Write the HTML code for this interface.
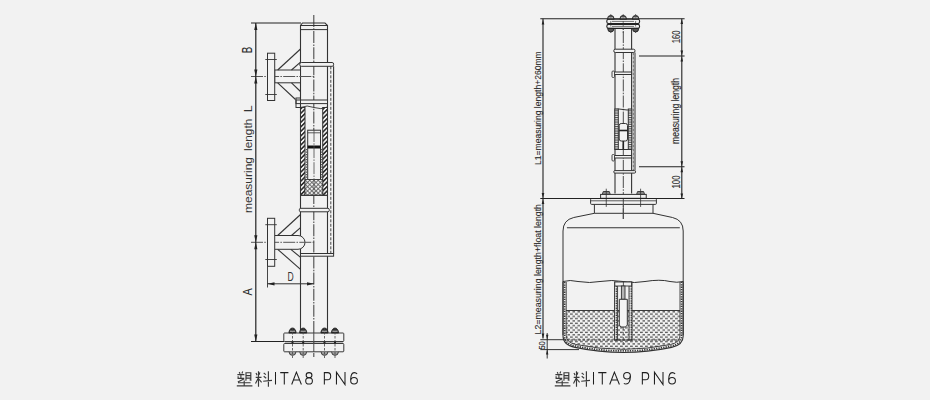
<!DOCTYPE html>
<html><head><meta charset="utf-8"><style>
html,body{margin:0;padding:0;background:#f2f2f2;}
svg{display:block;font-family:"Liberation Sans",sans-serif;}
</style></head><body>
<svg width="930" height="400" viewBox="0 0 930 400">
<defs>
<pattern id="hatch1" patternUnits="userSpaceOnUse" width="3.2" height="3.2" patternTransform="rotate(-45)"><rect width="3.2" height="3.2" fill="#f2f2f2"/><line x1="0" y1="1.6" x2="3.2" y2="1.6" stroke="#222" stroke-width="1.5"/></pattern>
<pattern id="xhatch" patternUnits="userSpaceOnUse" width="3" height="3" patternTransform="rotate(45)"><rect width="3" height="3" fill="#f2f2f2"/><path d="M0,1.5 H3 M1.5,0 V3" stroke="#555" stroke-width="0.8"/></pattern>
<pattern id="hhatch" patternUnits="userSpaceOnUse" width="4" height="1.8"><rect width="4" height="1.8" fill="#f2f2f2"/><rect x="0" y="0" width="4" height="0.8" fill="#3a3a3a"/></pattern>
<pattern id="dots" patternUnits="userSpaceOnUse" width="5" height="4.6"><rect width="5" height="4.6" fill="#f2f2f2"/><rect x="0" y="0.6" width="2.8" height="1.3" fill="#555"/><rect x="2.5" y="2.9" width="2.8" height="1.3" fill="#555"/></pattern>
<pattern id="vdot" patternUnits="userSpaceOnUse" width="3" height="2.4"><rect width="3" height="2.4" fill="#f2f2f2"/><rect x="0.6" y="0.3" width="1.8" height="1.4" fill="#333"/></pattern>
</defs>
<line x1="313.8" y1="15" x2="313.8" y2="357" stroke="#4a4a4a" stroke-width="1.1" stroke-dasharray="12 1.3 1.5 1.3"/>
<path d="M300.5,333 L300.5,25.5 L302.5,23 L325,23 L327.5,25.5 L327.5,333" stroke="#333" stroke-width="1.1" fill="none" />
<line x1="300.5" y1="25.5" x2="327.5" y2="25.5" stroke="#333" stroke-width="1" />
<line x1="300.5" y1="29.6" x2="327.5" y2="29.6" stroke="#333" stroke-width="1" />
<line x1="251" y1="23" x2="301" y2="23" stroke="#222" stroke-width="1.1" />
<rect x="299.8" y="62.5" width="33.80000000000001" height="3.799999999999997" rx="1.5" stroke="#333" stroke-width="1" fill="#f2f2f2" />
<line x1="333.6" y1="66.3" x2="333.6" y2="253.5" stroke="#333" stroke-width="1.1" />
<line x1="330.8" y1="66.3" x2="330.8" y2="253.5" stroke="#333" stroke-width="0.9" stroke-dasharray="3 1.5"/>
<rect x="296" y="100" width="31.5" height="3.5999999999999943" rx="0" stroke="#333" stroke-width="1" fill="#f2f2f2" />
<rect x="296" y="98" width="4.5" height="9.5" rx="0" stroke="#333" stroke-width="1" fill="none" />
<path d="M300.5,107.5 Q307,104.5 314,107.5 Q321,110 327.5,107" stroke="#333" stroke-width="0.9" fill="none" />
<rect x="300.5" y="107.5" width="4.5" height="87.80000000000001" rx="0" stroke="#333" stroke-width="1" fill="url(#hatch1)" />
<rect x="322.7" y="107.5" width="4.800000000000011" height="87.80000000000001" rx="0" stroke="#333" stroke-width="1" fill="url(#hatch1)" />
<rect x="307.7" y="130.2" width="12.800000000000011" height="49.30000000000001" rx="0" stroke="#333" stroke-width="1" fill="#f2f2f2" />
<line x1="307.7" y1="132.8" x2="320.5" y2="132.8" stroke="#333" stroke-width="0.8" />
<rect x="307.7" y="145.5" width="12.800000000000011" height="3.0" rx="0" stroke="#333" stroke-width="0" fill="#111" />
<line x1="306.4" y1="149" x2="306.4" y2="179.5" stroke="#555" stroke-width="1.3" stroke-dasharray="1.3 1.2"/>
<line x1="321.7" y1="149" x2="321.7" y2="179.5" stroke="#555" stroke-width="1.3" stroke-dasharray="1.3 1.2"/>
<rect x="305" y="179.5" width="17.69999999999999" height="15.800000000000011" rx="0" stroke="#333" stroke-width="0.8" fill="url(#xhatch)" />
<line x1="314" y1="130" x2="314" y2="195" stroke="#4a4a4a" stroke-width="0.8" stroke-dasharray="12 1.3 1.5 1.3"/>
<line x1="300.5" y1="195.3" x2="327.5" y2="195.3" stroke="#333" stroke-width="1" />
<rect x="299.3" y="208.3" width="30.0" height="3.5" rx="1.5" stroke="#333" stroke-width="1" fill="#f2f2f2" />
<rect x="300.5" y="253.5" width="33.10000000000002" height="2.6999999999999886" rx="0" stroke="#333" stroke-width="1" fill="#f2f2f2" />
<rect x="274.7" y="70" width="25.80000000000001" height="12.799999999999997" rx="0" stroke="#333" stroke-width="1" fill="#f2f2f2" />
<line x1="251" y1="76.5" x2="315" y2="76.5" stroke="#555" stroke-width="1" stroke-dasharray="12 1.3 1.5 1.3"/>
<rect x="267.5" y="53.2" width="7.199999999999989" height="47.3" rx="0" stroke="#333" stroke-width="1" fill="#f2f2f2" />
<line x1="265.3" y1="59.5" x2="276.8" y2="59.5" stroke="#333" stroke-width="0.9" />
<line x1="265.3" y1="94.5" x2="276.8" y2="94.5" stroke="#333" stroke-width="0.9" />
<line x1="277.7" y1="70" x2="300.5" y2="49" stroke="#333" stroke-width="1.1" />
<line x1="291.5" y1="70" x2="300.5" y2="62.2" stroke="#333" stroke-width="1.1" />
<line x1="277.7" y1="82.8" x2="295.5" y2="99.5" stroke="#333" stroke-width="1.1" />
<line x1="291.5" y1="82.8" x2="300.5" y2="91.5" stroke="#333" stroke-width="1.1" />
<path d="M274.7,235.5 L298,235.5 A7,6.9 0 0 1 298,249.3 L274.7,249.3" stroke="#333" stroke-width="1" fill="#f2f2f2" />
<line x1="251" y1="242.3" x2="315" y2="242.3" stroke="#555" stroke-width="1" stroke-dasharray="12 1.3 1.5 1.3"/>
<rect x="267.5" y="218.3" width="7.199999999999989" height="48.0" rx="0" stroke="#333" stroke-width="1" fill="#f2f2f2" />
<line x1="265.3" y1="224.7" x2="276.8" y2="224.7" stroke="#333" stroke-width="0.9" />
<line x1="265.3" y1="259.5" x2="276.8" y2="259.5" stroke="#333" stroke-width="0.9" />
<line x1="277.7" y1="235.5" x2="300.5" y2="214.5" stroke="#333" stroke-width="1.1" />
<line x1="291.5" y1="235.5" x2="300.5" y2="227.7" stroke="#333" stroke-width="1.1" />
<line x1="277.7" y1="249.3" x2="300.5" y2="269.3" stroke="#333" stroke-width="1.1" />
<line x1="290.8" y1="249.3" x2="300.5" y2="257.3" stroke="#333" stroke-width="1.1" />
<line x1="267.5" y1="266.3" x2="267.5" y2="287.5" stroke="#333" stroke-width="0.9" />
<line x1="267.5" y1="283.8" x2="314" y2="283.8" stroke="#333" stroke-width="1" />
<path d="M267.5,283.8 L274.5,282.2 L274.5,285.40000000000003 Z" fill="#222" stroke="none"/>
<path d="M314,283.8 L307,282.2 L307,285.40000000000003 Z" fill="#222" stroke="none"/>
<text x="287.6" y="280.5" font-size="12.2" fill="#333" textLength="6.2" lengthAdjust="spacingAndGlyphs">D</text>
<rect x="283.8" y="333" width="60.0" height="8.5" rx="0.8" stroke="#3a3a3a" stroke-width="1" fill="#f2f2f2" />
<rect x="283.8" y="343.5" width="60.0" height="8.300000000000011" rx="0.8" stroke="#3a3a3a" stroke-width="1" fill="#f2f2f2" />
<line x1="285" y1="342.5" x2="343" y2="342.5" stroke="#999" stroke-width="0.6" />
<path d="M288.9,333 A3.6,5 0 0 1 296.1,333 Z" stroke="#222" stroke-width="0.8" fill="#2a2a2a" />
<line x1="289.9" y1="331.2" x2="295.1" y2="331.2" stroke="#d8d8d8" stroke-width="0.9" />
<path d="M289.1,351.8 A3.4,3.6 0 0 0 295.9,351.8" stroke="#333" stroke-width="0.9" fill="#9a9a9a" />
<line x1="292.5" y1="328" x2="292.5" y2="358" stroke="#444" stroke-width="0.8" stroke-dasharray="2.5 1.5"/>
<circle cx="292.5" cy="342.5" r="1.1" fill="#222"/>
<path d="M299.59999999999997,333 A3.6,5 0 0 1 306.8,333 Z" stroke="#222" stroke-width="0.8" fill="#2a2a2a" />
<line x1="300.59999999999997" y1="331.2" x2="305.8" y2="331.2" stroke="#d8d8d8" stroke-width="0.9" />
<path d="M299.8,351.8 A3.4,3.6 0 0 0 306.59999999999997,351.8" stroke="#333" stroke-width="0.9" fill="#9a9a9a" />
<line x1="303.2" y1="328" x2="303.2" y2="358" stroke="#444" stroke-width="0.8" stroke-dasharray="2.5 1.5"/>
<circle cx="303.2" cy="342.5" r="1.1" fill="#222"/>
<path d="M320.9,333 A3.6,5 0 0 1 328.1,333 Z" stroke="#222" stroke-width="0.8" fill="#2a2a2a" />
<line x1="321.9" y1="331.2" x2="327.1" y2="331.2" stroke="#d8d8d8" stroke-width="0.9" />
<path d="M321.1,351.8 A3.4,3.6 0 0 0 327.9,351.8" stroke="#333" stroke-width="0.9" fill="#9a9a9a" />
<line x1="324.5" y1="328" x2="324.5" y2="358" stroke="#444" stroke-width="0.8" stroke-dasharray="2.5 1.5"/>
<circle cx="324.5" cy="342.5" r="1.1" fill="#222"/>
<path d="M331.4,333 A3.6,5 0 0 1 338.6,333 Z" stroke="#222" stroke-width="0.8" fill="#2a2a2a" />
<line x1="332.4" y1="331.2" x2="337.6" y2="331.2" stroke="#d8d8d8" stroke-width="0.9" />
<path d="M331.6,351.8 A3.4,3.6 0 0 0 338.4,351.8" stroke="#333" stroke-width="0.9" fill="#9a9a9a" />
<line x1="335" y1="328" x2="335" y2="358" stroke="#444" stroke-width="0.8" stroke-dasharray="2.5 1.5"/>
<circle cx="335" cy="342.5" r="1.1" fill="#222"/>
<line x1="313.8" y1="333" x2="313.8" y2="352" stroke="#4a4a4a" stroke-width="1" />
<line x1="255.8" y1="23" x2="255.8" y2="341.5" stroke="#222" stroke-width="1.2" />
<path d="M255.8,23 L254.20000000000002,30 L257.40000000000003,30 Z" fill="#222" stroke="none"/>
<path d="M255.8,76.5 L254.20000000000002,69.5 L257.40000000000003,69.5 Z" fill="#222" stroke="none"/>
<path d="M255.8,76.5 L254.20000000000002,83.5 L257.40000000000003,83.5 Z" fill="#222" stroke="none"/>
<path d="M255.8,242.3 L254.20000000000002,235.3 L257.40000000000003,235.3 Z" fill="#222" stroke="none"/>
<path d="M255.8,242.3 L254.20000000000002,249.3 L257.40000000000003,249.3 Z" fill="#222" stroke="none"/>
<path d="M255.8,341.5 L254.20000000000002,334.5 L257.40000000000003,334.5 Z" fill="#222" stroke="none"/>
<line x1="251" y1="341.5" x2="284" y2="341.5" stroke="#222" stroke-width="1.1" />
<text transform="translate(252.3,53.3) rotate(-90)" font-size="13.8" fill="#2a2a2a" stroke="#2a2a2a" stroke-width="0.1" textLength="6.5" lengthAdjust="spacingAndGlyphs">B</text>
<text transform="translate(252.2,213) rotate(-90)" font-size="11.8" fill="#333" stroke="#333" stroke-width="0" textLength="56" lengthAdjust="spacingAndGlyphs">measuring</text>
<text transform="translate(252.2,151) rotate(-90)" font-size="11.8" fill="#333" stroke="#333" stroke-width="0" textLength="32.3" lengthAdjust="spacingAndGlyphs">length</text>
<text transform="translate(252.2,112.2) rotate(-90)" font-size="11.8" fill="#333" stroke="#333" stroke-width="0" textLength="7.0" lengthAdjust="spacingAndGlyphs">L</text>
<text transform="translate(252.3,295.6) rotate(-90)" font-size="12" fill="#2a2a2a" stroke="#2a2a2a" stroke-width="0.1" textLength="7.2000000000000455" lengthAdjust="spacingAndGlyphs">A</text>
<line x1="623.3" y1="15" x2="623.3" y2="219" stroke="#4a4a4a" stroke-width="1" stroke-dasharray="12 1.3 1.5 1.3"/>
<line x1="540.3" y1="18.8" x2="684.6" y2="18.8" stroke="#222" stroke-width="1.1" />
<line x1="615" y1="28.4" x2="615" y2="193.5" stroke="#333" stroke-width="1.1" />
<line x1="631.6" y1="28.4" x2="631.6" y2="193.5" stroke="#333" stroke-width="1.1" />
<rect x="606.8" y="19.2" width="32.80000000000007" height="4.400000000000002" rx="1.8" stroke="#222" stroke-width="1.1" fill="#f2f2f2" />
<rect x="606.8" y="24.4" width="32.80000000000007" height="4.0" rx="1.8" stroke="#222" stroke-width="1.1" fill="#f2f2f2" />
<line x1="612" y1="21.4" x2="634" y2="21.4" stroke="#555" stroke-width="0.8" />
<line x1="612" y1="26.4" x2="634" y2="26.4" stroke="#555" stroke-width="0.8" />
<path d="M607.5,19.2 A3.3,3.8 0 0 1 614.0999999999999,19.2 Z" stroke="#222" stroke-width="0.9" fill="#555" />
<line x1="608.5999999999999" y1="17.6" x2="613.0" y2="17.6" stroke="#ccc" stroke-width="0.8" />
<line x1="610.8" y1="14" x2="610.8" y2="33" stroke="#444" stroke-width="0.7" stroke-dasharray="2 1.5"/>
<path d="M619.9000000000001,19.2 A3.3,3.8 0 0 1 626.5,19.2 Z" stroke="#222" stroke-width="0.9" fill="#555" />
<line x1="621.0" y1="17.6" x2="625.4000000000001" y2="17.6" stroke="#ccc" stroke-width="0.8" />
<line x1="623.2" y1="14" x2="623.2" y2="33" stroke="#444" stroke-width="0.7" stroke-dasharray="2 1.5"/>
<path d="M632.3000000000001,19.2 A3.3,3.8 0 0 1 638.9,19.2 Z" stroke="#222" stroke-width="0.9" fill="#555" />
<line x1="633.4" y1="17.6" x2="637.8000000000001" y2="17.6" stroke="#ccc" stroke-width="0.8" />
<line x1="635.6" y1="14" x2="635.6" y2="33" stroke="#444" stroke-width="0.7" stroke-dasharray="2 1.5"/>
<path d="M607.6999999999999,28.4 A3.1,3.6 0 0 0 613.9,28.4 Z" stroke="#222" stroke-width="0.9" fill="#555" />
<path d="M632.5,28.4 A3.1,3.6 0 0 0 638.7,28.4 Z" stroke="#222" stroke-width="0.9" fill="#555" />
<rect x="613.8" y="49.2" width="21.200000000000045" height="3.299999999999997" rx="1.5" stroke="#333" stroke-width="1" fill="#f2f2f2" />
<line x1="635" y1="52.5" x2="635" y2="170.6" stroke="#333" stroke-width="1" />
<line x1="633.3" y1="52.5" x2="633.3" y2="170.6" stroke="#444" stroke-width="0.8" stroke-dasharray="3 1"/>
<rect x="613.5" y="72" width="18.100000000000023" height="2.5" rx="0" stroke="#333" stroke-width="1" fill="#f2f2f2" />
<rect x="612" y="71" width="2.5" height="6.5" rx="1" stroke="#333" stroke-width="0.9" fill="#f2f2f2" />
<rect x="613.5" y="155.5" width="18.100000000000023" height="2.5" rx="0" stroke="#333" stroke-width="1" fill="#f2f2f2" />
<rect x="612" y="154.5" width="2.5" height="6.5" rx="1" stroke="#333" stroke-width="0.9" fill="#f2f2f2" />
<path d="M615,109.5 Q619,108.5 623,109.5 Q627,110.5 631.6,109.5" stroke="#333" stroke-width="1" fill="none" />
<rect x="614.8" y="109" width="3.5" height="40.5" rx="0" stroke="#333" stroke-width="1" fill="url(#hhatch)" />
<rect x="628.3" y="109" width="3.5" height="40.5" rx="0" stroke="#333" stroke-width="1" fill="url(#hhatch)" />
<line x1="615" y1="149.5" x2="631.6" y2="149.5" stroke="#333" stroke-width="1" />
<rect x="619.2" y="123.5" width="8.299999999999955" height="17.5" rx="2" stroke="#333" stroke-width="1" fill="#f2f2f2" />
<line x1="619.2" y1="130.5" x2="627.5" y2="130.5" stroke="#222" stroke-width="1.6" />
<line x1="623.3" y1="141" x2="623.3" y2="149.5" stroke="#222" stroke-width="1.6" />
<rect x="613.75" y="170.6" width="21.850000000000023" height="2.5" rx="1.2" stroke="#333" stroke-width="1" fill="#f2f2f2" />
<line x1="639" y1="56" x2="684.6" y2="56" stroke="#222" stroke-width="1.1" />
<line x1="639" y1="166.8" x2="684.5" y2="166.8" stroke="#222" stroke-width="1.1" />
<line x1="681.8" y1="18.8" x2="681.8" y2="198.5" stroke="#222" stroke-width="1.1" />
<path d="M681.8,19 L680.5,24 L683.0999999999999,24 Z" fill="#222" stroke="none"/>
<path d="M681.8,55.5 L680.5,50.5 L683.0999999999999,50.5 Z" fill="#222" stroke="none"/>
<path d="M681.8,56.5 L680.5,61.5 L683.0999999999999,61.5 Z" fill="#222" stroke="none"/>
<path d="M681.8,166.3 L680.5,161.3 L683.0999999999999,161.3 Z" fill="#222" stroke="none"/>
<path d="M681.8,167.3 L680.5,172.3 L683.0999999999999,172.3 Z" fill="#222" stroke="none"/>
<path d="M681.8,198.5 L680.5,193.5 L683.0999999999999,193.5 Z" fill="#222" stroke="none"/>
<text transform="translate(680.2,43.3) rotate(-90)" font-size="10.3" fill="#2a2a2a" stroke="#2a2a2a" stroke-width="0.1" textLength="12.799999999999997" lengthAdjust="spacingAndGlyphs">160</text>
<text transform="translate(678.6,144) rotate(-90)" font-size="10" fill="#2a2a2a" stroke="#2a2a2a" stroke-width="0.1" textLength="66" lengthAdjust="spacingAndGlyphs">measuring length</text>
<text transform="translate(680.4,188.5) rotate(-90)" font-size="10.3" fill="#2a2a2a" stroke="#2a2a2a" stroke-width="0.1" textLength="13.0" lengthAdjust="spacingAndGlyphs">100</text>
<rect x="600.6" y="194.4" width="45.64999999999998" height="3.9000000000000057" rx="0" stroke="#333" stroke-width="1" fill="#f2f2f2" />
<path d="M602.25,194.4 L603.25,191.5 L609.25,191.5 L610.25,194.4 Z" stroke="#333" stroke-width="0.9" fill="#888" />
<line x1="606.25" y1="188.7" x2="606.25" y2="206.9" stroke="#333" stroke-width="0.8" />
<path d="M636.6,194.4 L637.6,191.5 L643.6,191.5 L644.6,194.4 Z" stroke="#333" stroke-width="0.9" fill="#888" />
<line x1="640.6" y1="188.7" x2="640.6" y2="206.9" stroke="#333" stroke-width="0.8" />
<rect x="590.6" y="198.5" width="65.79999999999995" height="5.900000000000006" rx="1" stroke="#333" stroke-width="1" fill="none" />
<line x1="591" y1="200.8" x2="656" y2="200.8" stroke="#333" stroke-width="0.8" />
<line x1="540.3" y1="198.5" x2="684.5" y2="198.5" stroke="#222" stroke-width="1.1" />
<path d="M594.4,204.4 L594.4,213.3 L573.75,217.5 Q563,220 563,231 L563,335" stroke="#333" stroke-width="1" fill="none" />
<path d="M653,204.4 L653,213.3 L672.5,217.5 Q683.2,220 683.2,231 L683.2,335" stroke="#333" stroke-width="1" fill="none" />
<line x1="594.4" y1="213.3" x2="653" y2="213.3" stroke="#333" stroke-width="1" />
<line x1="566.9" y1="227.75" x2="679.8" y2="227.75" stroke="#333" stroke-width="1.1" />
<line x1="623.3" y1="204" x2="623.3" y2="219" stroke="#4a4a4a" stroke-width="1" />
<path d="M566.2,310 L680,310 L680,335.5 Q680,342.5 670.6,344.5 Q623.3,354.2 576,344.5 Q566.2,342.5 566.2,335.5 Z" stroke="#333" stroke-width="0" fill="url(#dots)" />
<line x1="566" y1="310.5" x2="680" y2="310.5" stroke="#3a3a3a" stroke-width="1.2" />
<line x1="566.5" y1="340" x2="680" y2="340" stroke="#333" stroke-width="1.1" stroke-dasharray="2.5 1.5"/>
<path d="M564.6,282 L564.6,336 Q564.6,344 575.5,346 Q623.3,355.8 671.1,346 Q681.6,344 681.6,336 L681.6,282" stroke="#3a3a3a" stroke-width="1.7" fill="none" stroke-dasharray="1.3 1.1"/>
<path d="M563,281.5 L563,336 Q563,345 575,347.4 Q623.3,357.5 671.6,347.4 Q683.2,345 683.2,336 L683.2,281.5" stroke="#333" stroke-width="1.1" fill="none" />
<path d="M566.2,282 L566.2,335.5 Q566.2,342.5 576,344.5 Q623.3,354.2 670.6,344.5 Q680,342.5 680,335.5 L680,282" stroke="#333" stroke-width="0.9" fill="none" />
<path d="M563,281.5 Q570,279.5 578,281.5 Q590,283.5 600,281.5 Q612,279.5 623,281.5 Q635,283.5 645,281.5 Q660,279 670,281.5 Q677,283 683.2,281.5" stroke="#333" stroke-width="1" fill="none" />
<rect x="614.5" y="282" width="3.1000000000000227" height="58" rx="0" stroke="#333" stroke-width="0.9" fill="url(#vdot)" />
<rect x="629" y="282" width="3" height="58" rx="0" stroke="#333" stroke-width="0.9" fill="url(#vdot)" />
<rect x="614.8" y="282" width="16.800000000000068" height="4" rx="0" stroke="#333" stroke-width="0.9" fill="#f2f2f2" />
<line x1="623.4" y1="282" x2="623.4" y2="286" stroke="#333" stroke-width="0.8" />
<rect x="621.4" y="286" width="3.6000000000000227" height="13.300000000000011" rx="0" stroke="#333" stroke-width="0.9" fill="#b5b5b5" />
<line x1="614.5" y1="340" x2="632" y2="340" stroke="#333" stroke-width="0.9" />
<path d="M619.3,299.3 L627.3,299.3 L627.3,325 L625.5,327 L621,327 L619.3,325 Z" stroke="#333" stroke-width="1" fill="#f4f4f4" />
<line x1="623.3" y1="327" x2="623.3" y2="346" stroke="#4a4a4a" stroke-width="0.8" stroke-dasharray="3 2"/>
<line x1="543" y1="18.8" x2="543" y2="338.6" stroke="#222" stroke-width="1.1" />
<path d="M543,19.5 L541.7,24.5 L544.3,24.5 Z" fill="#222" stroke="none"/>
<path d="M543,198 L541.7,193 L544.3,193 Z" fill="#222" stroke="none"/>
<path d="M543,199 L541.7,204 L544.3,204 Z" fill="#222" stroke="none"/>
<path d="M543,338.6 L541.7,333.6 L544.3,333.6 Z" fill="#222" stroke="none"/>
<line x1="540.3" y1="339.7" x2="566" y2="339.7" stroke="#333" stroke-width="1" />
<line x1="540.3" y1="349.6" x2="579" y2="349.6" stroke="#333" stroke-width="1" />
<line x1="547.2" y1="333" x2="547.2" y2="358.5" stroke="#222" stroke-width="0.9" />
<path d="M547.2,339.7 L546.0,334.7 L548.4000000000001,334.7 Z" fill="#222" stroke="none"/>
<path d="M547.2,349.6 L546.0,354.6 L548.4000000000001,354.6 Z" fill="#222" stroke="none"/>
<text transform="translate(541,165) rotate(-90)" font-size="9.2" fill="#2a2a2a" stroke="#2a2a2a" stroke-width="0.1" textLength="113.7" lengthAdjust="spacingAndGlyphs">L1=measuring length+260mm</text>
<text transform="translate(541,334.4) rotate(-90)" font-size="9.2" fill="#2a2a2a" stroke="#2a2a2a" stroke-width="0.1" textLength="130.39999999999998" lengthAdjust="spacingAndGlyphs">L2=measuring length+float length</text>
<text transform="translate(544.6,349.6) rotate(-90)" font-size="9.6" fill="#2a2a2a" stroke="#2a2a2a" stroke-width="0.1" textLength="8.300000000000011" lengthAdjust="spacingAndGlyphs">50</text>
<g transform="translate(0,0)">
<path d="M239.2,372.1 L240.1,373.7 M242.7,371.5 L241.9,373.5 M237.4,374.6 H244.4 M240.9,374.6 V378.3 M238.1,376.2 V378.3 H244.2 M244.3,378.7 L237.8,381.9 M245.9,380.8 Q246,379.5 246,377.5 V372.7 H250.8 V380.2 L249.6,379.8 M246,375.6 H250.8 M246,378.1 H250.8 M238,382.7 H250.6 M244.2,380.6 V385.6 M236.8,385.8 H252.4 M256,373 L257.1,375.2 M259.9,372.4 L259,374.9 M255.7,377.4 H261.5 M258.5,371.3 V386.8 M258.2,378.3 L255.5,383.5 M258.8,379 L261.6,382.3 M263.7,373 L265.9,374.6 M263.7,376.3 L266.2,378.2 M263.2,381.2 L272,380.4 M268.4,371.3 V386.8" stroke="#3a3a3a" stroke-width="1.15" fill="none"/>
<path d="M275.5,372.1 V384.5 M280.2,372.6 H288.4 M284.3,372.6 V384.5 M291.7,384.5 L296.4,372.1 L301.4,384.5 M293.2,380 H299.7 M324.35,384.5 V372.6 H327.6 Q330.7,372.6 330.7,376.2 Q330.7,379.8 327.6,379.8 H324.35 M336.45,384.5 V372.1 L345,384.5 V372.1 M357.1,374 Q356.2,372.6 354.2,372.6 Q350.7,372.6 350.7,379.8" stroke="#1e1e1e" stroke-width="1.05" fill="none"/>
<ellipse cx="354.05" cy="380.8" rx="3.35" ry="3.2" stroke="#1e1e1e" stroke-width="1.05" fill="none"/>
<ellipse cx="309.05" cy="375.2" rx="2.9" ry="2.6" stroke="#1e1e1e" stroke-width="1.05" fill="none"/>
<ellipse cx="309.05" cy="380.9" rx="3.35" ry="3.1" stroke="#1e1e1e" stroke-width="1.05" fill="none"/>
</g>
<g transform="translate(318,0)">
<path d="M239.2,372.1 L240.1,373.7 M242.7,371.5 L241.9,373.5 M237.4,374.6 H244.4 M240.9,374.6 V378.3 M238.1,376.2 V378.3 H244.2 M244.3,378.7 L237.8,381.9 M245.9,380.8 Q246,379.5 246,377.5 V372.7 H250.8 V380.2 L249.6,379.8 M246,375.6 H250.8 M246,378.1 H250.8 M238,382.7 H250.6 M244.2,380.6 V385.6 M236.8,385.8 H252.4 M256,373 L257.1,375.2 M259.9,372.4 L259,374.9 M255.7,377.4 H261.5 M258.5,371.3 V386.8 M258.2,378.3 L255.5,383.5 M258.8,379 L261.6,382.3 M263.7,373 L265.9,374.6 M263.7,376.3 L266.2,378.2 M263.2,381.2 L272,380.4 M268.4,371.3 V386.8" stroke="#3a3a3a" stroke-width="1.15" fill="none"/>
<path d="M275.5,372.1 V384.5 M280.2,372.6 H288.4 M284.3,372.6 V384.5 M291.7,384.5 L296.4,372.1 L301.4,384.5 M293.2,380 H299.7 M324.35,384.5 V372.6 H327.6 Q330.7,372.6 330.7,376.2 Q330.7,379.8 327.6,379.8 H324.35 M336.45,384.5 V372.1 L345,384.5 V372.1 M357.1,374 Q356.2,372.6 354.2,372.6 Q350.7,372.6 350.7,379.8" stroke="#1e1e1e" stroke-width="1.05" fill="none"/>
<ellipse cx="354.05" cy="380.8" rx="3.35" ry="3.2" stroke="#1e1e1e" stroke-width="1.05" fill="none"/>
<ellipse cx="309.0" cy="375.8" rx="3.35" ry="3.2" stroke="#1e1e1e" stroke-width="1.05" fill="none"/>
<path d="M312.35,375.8 Q312.35,384 308,384 Q306.5,384 305.9,383.2" stroke="#1e1e1e" stroke-width="1.05" fill="none"/>
</g>
</svg>
</body></html>
